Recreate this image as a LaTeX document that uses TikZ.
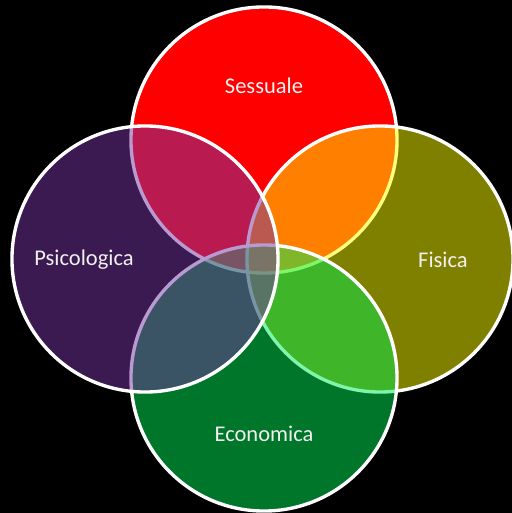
\documentclass[tikz,border=0pt]{standalone}
\usepackage{fontspec}
\setmainfont{Carlito}
\definecolor{myred}{RGB}{255,0,0}
\definecolor{myyellow}{RGB}{255,255,0}
\definecolor{mygreen}{RGB}{0,236,84}
\definecolor{mypurple}{RGB}{116,52,160}

\begin{document}
\begin{tikzpicture}[x=0.025cm,y=-0.025cm]

\tikzstyle{ring} = [circle, draw=white, line width=2.4pt, minimum size=6.65cm, inner sep=0]
\tikzstyle{half} = [fill opacity=0.5]
\tikzstyle{word} = [text=white!94!black, font=\fontsize{16}{18}\selectfont]

% black sheet
\fill[black] (0,0) rectangle (512,513);
\useasboundingbox (0,0) rectangle (512,513);

% the four rings, later ones see-through
\node [ring, fill=myred] (sessuale) at (264,140) {};
\node [ring, half, fill=myyellow] (fisica) at (380,259) {};
\node [ring, half, fill=mygreen] (economica) at (264,378) {};
\node [ring, half, fill=mypurple] (psicologica) at (145,259) {};

\node [word] (tsessuale) at (264,86) {Sessuale};
\node [word] (tfisica) at (443,260) {Fisica};
\node [word] (teconomica) at (264,434) {Economica};
\node [word] (tpsicologica) at (84,260) {Psicologica};

\end{tikzpicture}
\end{document}
